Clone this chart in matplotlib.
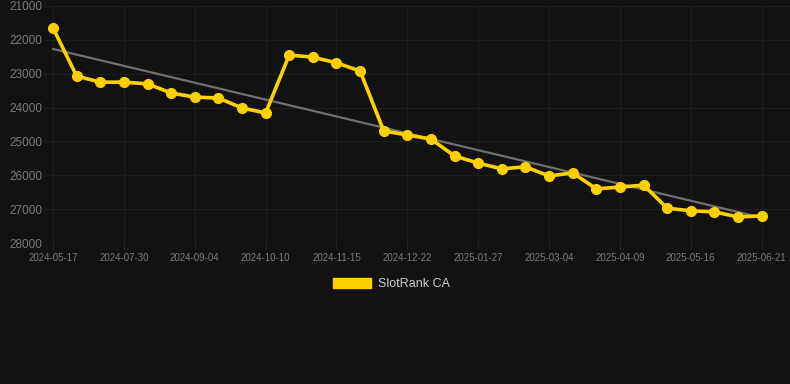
import matplotlib.pyplot as plt
from matplotlib.patches import Patch

dates = ["2024-05-17", "2024-06-10", "2024-07-05", "2024-07-30", "2024-08-11",
         "2024-08-23", "2024-09-04", "2024-09-16", "2024-09-28", "2024-10-10",
         "2024-10-22", "2024-11-03", "2024-11-15", "2024-11-27", "2024-12-10",
         "2024-12-22", "2025-01-03", "2025-01-15", "2025-01-27", "2025-02-08",
         "2025-02-20", "2025-03-04", "2025-03-16", "2025-03-28", "2025-04-09",
         "2025-04-21", "2025-05-04", "2025-05-16", "2025-05-28", "2025-06-09",
         "2025-06-21"]
ranks = [21650, 23070, 23250, 23250, 23300, 23570, 23690, 23720, 24010, 24160,
         22450, 22510, 22680, 22920, 24690, 24810, 24930, 25430, 25640, 25810,
         25750, 26020, 25930, 26400, 26350, 26290, 26970, 27050, 27080, 27230,
         27200]
trend = [22270, 27250]
series_name = "SlotRank CA"

bg = "#121212"
yellow = "#FFD000"

fig = plt.figure(figsize=(7.9, 3.84), dpi=100, facecolor=bg)
ax = fig.add_axes([45 / 790, 1 - 243 / 384, 745 / 790, 237 / 384], facecolor=bg)

x = list(range(len(dates)))
ax.plot([x[0], x[-1]], trend, color="#707070", lw=1.6, zorder=2)
ax.plot(x, ranks, color=yellow, lw=2.6, marker="o", ms=7, zorder=3)

ax.set_ylim(28000, 21000)
ax.set_yticks(range(21000, 28001, 1000))
ax.set_xlim(-0.34, 31.2)
ax.set_xticks(x[::3])
ax.set_xticklabels(dates[::3])

ax.grid(True, color="#1e1e1e", lw=0.9)
for s in ax.spines.values():
    s.set_visible(False)
ax.tick_params(axis="y", length=0, colors="#7a7a7a", labelsize=8.5, pad=2,
               labelfontfamily="Liberation Sans")
ax.tick_params(axis="x", length=4, color="#262626", colors="#7a7a7a",
               labelsize=7, pad=3, labelfontfamily="Liberation Sans")

handle = Patch(facecolor=yellow, edgecolor=yellow)
fig.legend([handle], [series_name], loc="center",
           bbox_to_anchor=(391 / 790, 1 - 284 / 384), frameon=False,
           handlelength=3.1, handleheight=0.8, handletextpad=0.5,
           prop={"family": "Liberation Sans", "size": 9}, labelcolor="#cccccc")

fig.savefig("out.png", dpi=100, facecolor=bg)
